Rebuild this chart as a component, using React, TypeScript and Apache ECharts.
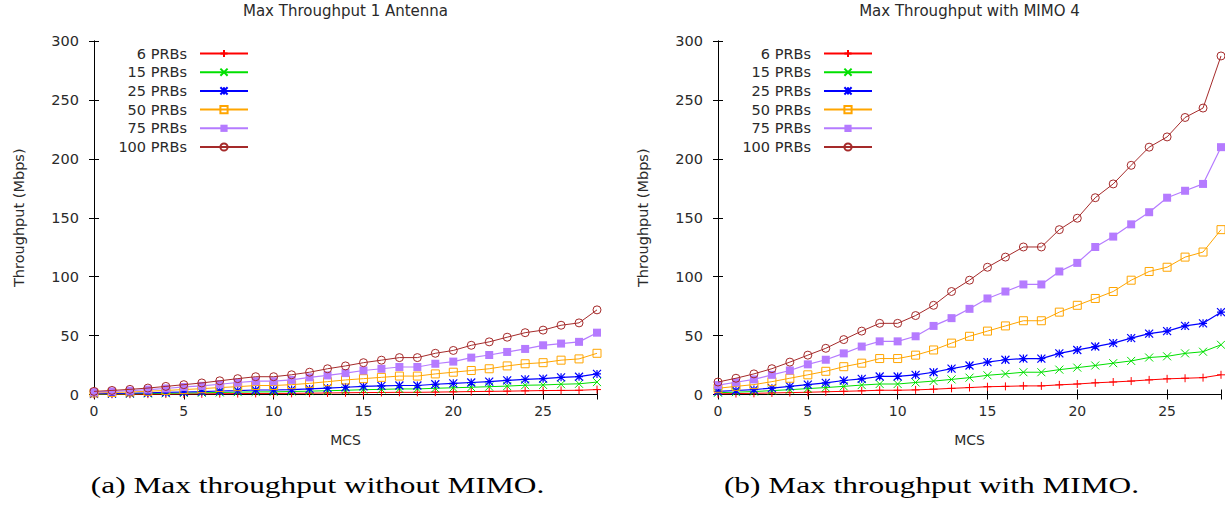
import React, { useEffect, useRef } from "react";
import * as echarts from "echarts";

// ---------- data ----------
const MCS = [0, 1, 2, 3, 4, 5, 6, 7, 8, 9, 10, 11, 12, 13, 14, 15, 16, 17, 18, 19, 20, 21, 22, 23, 24, 25, 26, 27, 28];
const PRB_LABELS = ["6 PRBs", "15 PRBs", "25 PRBs", "50 PRBs", "75 PRBs", "100 PRBs"];

// Max throughput, 1 antenna (Mbps)
const SISO_6 = [0.14, 0.2, 0.24, 0.31, 0.39, 0.48, 0.57, 0.68, 0.77, 0.89, 0.89, 0.98, 1.14, 1.29, 1.47, 1.65, 1.72, 1.84, 1.84, 2.05, 2.23, 2.48, 2.66, 2.84, 3.09, 3.33, 3.45, 3.58, 4.19];
const SISO_15 = [0.37, 0.5, 0.62, 0.83, 1.01, 1.26, 1.47, 1.72, 1.99, 2.23, 2.23, 2.54, 2.84, 3.21, 3.58, 4.06, 4.37, 4.73, 4.73, 5.28, 5.71, 6.15, 6.64, 7.13, 7.86, 8.1, 8.71, 9.08, 10.54];
const SISO_25 = [0.65, 0.86, 1.04, 1.35, 1.72, 2.11, 2.48, 2.97, 3.33, 3.82, 3.82, 4.19, 4.73, 5.47, 6.15, 6.88, 7.37, 7.62, 7.62, 8.71, 9.45, 10.18, 10.91, 11.99, 12.9, 13.45, 14.55, 15.1, 17.47];
const SISO_50 = [1.32, 1.72, 2.11, 2.72, 3.45, 4.19, 4.92, 5.91, 6.64, 7.62, 7.62, 8.35, 9.45, 10.91, 12.35, 13.45, 14.55, 15.64, 15.64, 17.47, 18.92, 20.38, 21.84, 24.26, 26.09, 27.0, 29.14, 30.21, 34.97];
const SISO_75 = [1.99, 2.6, 3.21, 4.19, 5.1, 6.4, 7.37, 8.71, 10.18, 11.28, 11.28, 12.35, 14.55, 16.19, 18.18, 20.38, 21.84, 23.34, 23.34, 26.09, 27.92, 31.31, 33.51, 36.11, 38.67, 41.76, 43.22, 44.68, 52.47];
const SISO_100 = [2.66, 3.45, 4.37, 5.47, 6.88, 8.35, 9.81, 11.64, 13.45, 15.1, 15.1, 16.74, 18.92, 21.84, 24.26, 27.0, 29.14, 31.31, 31.31, 34.97, 37.39, 41.76, 44.68, 48.63, 52.47, 54.64, 58.77, 60.78, 71.83];

// Max throughput with MIMO 4 (Mbps)
const MIMO_6 = [0.6, 0.8, 1.0, 1.3, 1.6, 1.9, 2.3, 2.7, 3.1, 3.6, 3.6, 3.9, 4.5, 5.2, 5.9, 6.6, 6.9, 7.3, 7.3, 8.2, 8.9, 9.9, 10.6, 11.4, 12.4, 13.3, 13.8, 14.3, 16.7];
const MIMO_15 = [1.5, 2.0, 2.5, 3.3, 4.1, 5.0, 5.9, 6.9, 8.0, 8.9, 8.9, 10.2, 11.4, 12.8, 14.3, 16.3, 17.5, 18.9, 18.9, 21.1, 22.8, 24.6, 26.6, 28.5, 31.4, 32.4, 34.9, 36.3, 42.2];
const MIMO_25 = [2.6, 3.4, 4.2, 5.4, 6.9, 8.4, 9.9, 11.9, 13.3, 15.3, 15.3, 16.7, 18.9, 21.9, 24.6, 27.5, 29.5, 30.5, 30.5, 34.9, 37.8, 40.7, 43.6, 47.9, 51.6, 53.8, 58.2, 60.4, 69.9];
const MIMO_50 = [5.3, 6.9, 8.4, 10.9, 13.8, 16.7, 19.7, 23.6, 26.6, 30.5, 30.5, 33.4, 37.8, 43.6, 49.4, 53.8, 58.2, 62.6, 62.6, 69.9, 75.7, 81.5, 87.4, 97.0, 104.4, 108.0, 116.6, 120.9, 139.9];
const MIMO_75 = [8.0, 10.4, 12.8, 16.7, 20.4, 25.6, 29.5, 34.9, 40.7, 45.1, 45.1, 49.4, 58.2, 64.8, 72.7, 81.5, 87.4, 93.4, 93.4, 104.4, 111.7, 125.2, 134.0, 144.4, 154.7, 167.0, 172.9, 178.7, 209.9];
const MIMO_100 = [10.6, 13.8, 17.5, 21.9, 27.5, 33.4, 39.2, 46.6, 53.8, 60.4, 60.4, 67.0, 75.7, 87.4, 97.0, 108.0, 116.6, 125.2, 125.2, 139.9, 149.6, 167.0, 178.7, 194.5, 209.9, 218.6, 235.1, 243.1, 287.3];

const SISO = [SISO_6, SISO_15, SISO_25, SISO_50, SISO_75, SISO_100];
const MIMO = [MIMO_6, MIMO_15, MIMO_25, MIMO_50, MIMO_75, MIMO_100];

const TITLES = ["Max Throughput 1 Antenna", "Max Throughput with MIMO 4"];
const CAPTIONS = ["(a) Max throughput without MIMO.", "(b) Max throughput with MIMO."];
const X_NAME = "MCS";
const Y_NAME = "Throughput (Mbps)";
const X_MIN = 0;
const X_MAX = 28;
const X_STEP = 5;
const Y_MIN = 0;
const Y_MAX = 300;
const Y_STEP = 50;

// ---------- styles ----------
const W = 1225;
const H = 506;
const GRIDS = [
  { left: 94, top: 41, width: 503, height: 353.5 },
  { left: 718, top: 41, width: 503, height: 353.5 },
];
const COLORS = ["#ff0000", "#00e000", "#0000ff", "#ffa500", "#b57bff", "#a52a2a"];
const SYMBOLS = [
  "path://M5,0L5,10M0,5L10,5",
  "path://M0,0L10,10M10,0L0,10",
  "path://M0,0L10,10M10,0L0,10M5,0L5,10M0,5L10,5",
  "path://M0,0L10,0L10,10L0,10Z",
  "rect",
  "path://M10,5A5,5,0,1,1,0,5A5,5,0,1,1,10,5Z",
];
const SYMBOL_FILLED = [true, true, true, false, true, false];
const LINE_WIDTHS = [1, 1, 1.2, 1, 1.2, 1];
const SANS = "DejaVu Sans";
const SERIF = "Liberation Serif";
const TEXT = "#2a2a2a";

function measure(text: string, font: string): number {
  const c = document.createElement("canvas").getContext("2d");
  if (!c) return text.length * 10;
  c.font = font;
  return c.measureText(text).width;
}

function buildOption() {
  const capFont = `24px "${SERIF}"`;
  const capTargets = [467, 403];
  const capScale =
    (capTargets[0] / measure(CAPTIONS[0], capFont) + capTargets[1] / measure(CAPTIONS[1], capFont)) / 2;
  const capCenters = [317.5, 931.5];

  const xAxes: any[] = [];
  const yAxes: any[] = [];
  const series: any[] = [];
  const legends: any[] = [];
  const titles: any[] = [];
  const graphics: any[] = [];

  GRIDS.forEach((g, gi) => {
    const cx = g.left + g.width / 2;
    xAxes.push({
      type: "value",
      gridIndex: gi,
      position: "bottom",
      min: X_MIN,
      max: X_MAX,
      interval: X_STEP,
      name: X_NAME,
      nameLocation: "middle",
      nameGap: 38,
      nameTextStyle: { fontFamily: SANS, fontSize: 14, color: TEXT },
      axisLine: { show: true, lineStyle: { color: "#000", width: 1 } },
      axisTick: { show: true, inside: true, length: 5, lineStyle: { color: "#000" } },
      axisLabel: {
        show: true,
        margin: 9,
        fontFamily: SANS,
        fontSize: 14,
        color: TEXT,
        formatter: (v: number) => (v % X_STEP === 0 ? String(v) : ""),
      },
      splitLine: { show: false },
    });
    xAxes.push({
      type: "value",
      gridIndex: gi,
      position: "top",
      min: X_MIN,
      max: X_MAX,
      interval: X_STEP,
      axisLine: { show: true, lineStyle: { color: "#000", width: 1 } },
      axisTick: { show: true, inside: true, length: 5, lineStyle: { color: "#000" } },
      axisLabel: { show: false },
      splitLine: { show: false },
    });
    yAxes.push({
      type: "value",
      gridIndex: gi,
      position: "left",
      min: Y_MIN,
      max: Y_MAX,
      interval: Y_STEP,
      name: Y_NAME,
      nameLocation: "middle",
      nameGap: 68,
      nameRotate: 90,
      nameTextStyle: { fontFamily: SANS, fontSize: 14.5, color: TEXT },
      axisLine: { show: true, lineStyle: { color: "#000", width: 1 } },
      axisTick: { show: true, inside: true, length: 5, lineStyle: { color: "#000" } },
      axisLabel: { show: true, margin: 15, fontFamily: SANS, fontSize: 14.5, color: TEXT },
      splitLine: { show: false },
    });
    yAxes.push({
      type: "value",
      gridIndex: gi,
      position: "right",
      min: Y_MIN,
      max: Y_MAX,
      interval: Y_STEP,
      axisLine: { show: true, lineStyle: { color: "#000", width: 1 } },
      axisTick: { show: true, inside: true, length: 5, lineStyle: { color: "#000" } },
      axisLabel: { show: false },
      splitLine: { show: false },
    });

    const groups = gi === 0 ? SISO : MIMO;
    groups.forEach((vals, si) => {
      const c = COLORS[si];
      series.push({
        type: "line",
        name: PRB_LABELS[si],
        xAxisIndex: gi * 2,
        yAxisIndex: gi * 2,
        data: MCS.map((m, i) => [m, vals[i]]),
        symbol: SYMBOLS[si],
        symbolSize: 8,
        showSymbol: true,
        lineStyle: { color: c, width: LINE_WIDTHS[si] },
        itemStyle: {
          color: SYMBOL_FILLED[si] ? c : "rgba(0,0,0,0)",
          borderColor: c,
          borderWidth: si === 4 ? 0 : si === 2 ? 1.2 : 1,
        },
        emphasis: { disabled: true },
        z: 2 + si,
      });
    });

    legends.push({
      orient: "vertical",
      align: "right",
      right: W - (g.left + 155),
      top: 46,
      padding: 0,
      itemWidth: 48,
      itemHeight: 9,
      itemGap: 3.7,
      selectedMode: false,
      data: PRB_LABELS,
      textStyle: { fontFamily: SANS, fontSize: 14.5, color: TEXT, lineHeight: 14, padding: [0, 8, 0, 0] },
    });

    titles.push({
      text: TITLES[gi],
      left: cx,
      top: 3,
      textAlign: "center",
      padding: 0,
      textStyle: { fontFamily: SANS, fontSize: 15, fontWeight: "normal", color: TEXT },
    });

    graphics.push({
      type: "text",
      x: capCenters[gi],
      y: 485,
      scaleX: capScale,
      style: {
        text: CAPTIONS[gi],
        font: capFont,
        fill: "#000",
        align: "center",
        verticalAlign: "middle",
      },
    });
  });

  return {
    animation: false,
    backgroundColor: "#ffffff",
    title: titles,
    legend: legends,
    grid: GRIDS.map((g) => ({ left: g.left, top: g.top, width: g.width, height: g.height, containLabel: false })),
    xAxis: xAxes,
    yAxis: yAxes,
    series,
    graphic: graphics,
  };
}

export default function App() {
  const ref = useRef<HTMLDivElement>(null);
  useEffect(() => {
    if (!ref.current) return;
    const chart = echarts.init(ref.current, null, { renderer: "svg" });
    chart.setOption(buildOption() as any);
    return () => chart.dispose();
  }, []);
  return (
    <div
      ref={ref}
      style={{ position: "absolute", left: 0, top: 0, width: W, height: H, background: "#fff" }}
    />
  );
}
